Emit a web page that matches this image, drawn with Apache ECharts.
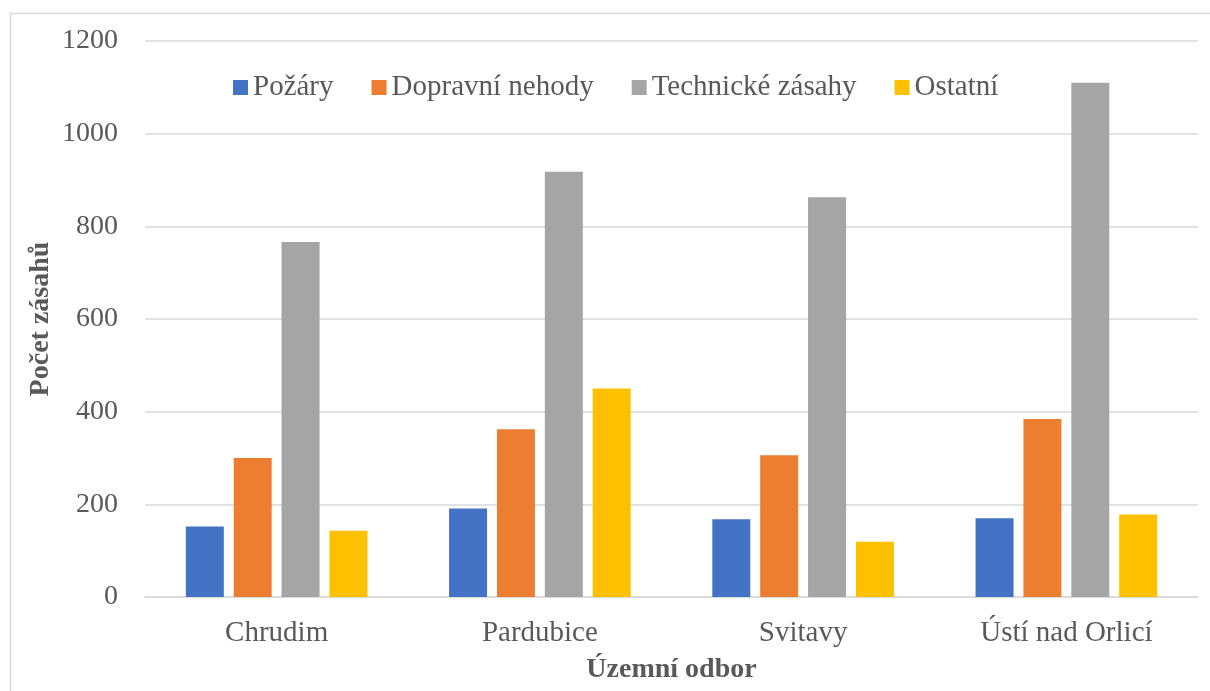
<!DOCTYPE html>
<html>
<head>
<meta charset="utf-8">
<script src="https://cdn.jsdelivr.net/npm/echarts@6/dist/echarts.min.js"></script>
<style>
  html, body { margin: 0; padding: 0; background: #fff; }
  #chart { width: 1210px; height: 691px; }
</style>
</head>
<body>
<div id="chart"></div>
<script>
// územní odbory a počty zásahů
var odbory = ['Chrudim', 'Pardubice', 'Svitavy', 'Ústí nad Orlicí'];
var pozary = [152, 191, 168, 170];
var dopravni = [300, 362, 306, 384];
var technicke = [766, 918, 863, 1110];
var ostatni = [143, 450, 119, 178];

var nazvy = ['Požáry', 'Dopravní nehody', 'Technické zásahy', 'Ostatní'];
var barvy = ['#4472C4', '#ED7D31', '#A5A5A5', '#FFC000'];
var hodnoty = [pozary, dopravni, technicke, ostatni];

var font = '"Liberation Serif", "Times New Roman", serif';
var textColor = '#595959';

var myChart = echarts.init(document.getElementById('chart'));

var seriesList = [];
nazvy.forEach(function (n, i) {
  seriesList.push({
    type: 'bar',
    name: n,
    data: hodnoty[i],
    itemStyle: { color: barvy[i] },
    barGap: '26%',
    barCategoryGap: '31%'
  });
});

var option = {
  animation: false,
  color: barvy,
  textStyle: { fontFamily: font },
  graphic: [{
    type: 'rect',
    shape: { x: 10.5, y: 13.5, width: 1300, height: 800 },
    style: { fill: 'none', stroke: '#d9d9d9', lineWidth: 1.5 },
    silent: true,
    z: -10
  }],
  legend: {
    top: 68,
    left: 228,
    itemWidth: 15,
    itemHeight: 15,
    itemGap: 38,
    icon: 'rect',
    textStyle: { fontFamily: font, fontSize: 29, color: textColor }
  },
  grid: {
    left: 145,
    right: 12,
    top: 41,
    bottom: 94,
    containLabel: false
  },
  xAxis: {
    type: 'category',
    data: odbory,
    name: 'Územní odbor',
    nameLocation: 'middle',
    nameGap: 59,
    nameTextStyle: { fontFamily: font, fontSize: 28, fontWeight: 'bold', color: textColor },
    axisLine: { lineStyle: { color: '#d9d9d9', width: 1.5 } },
    axisTick: { show: false },
    axisLabel: { fontFamily: font, fontSize: 29, color: textColor, margin: 22 }
  },
  yAxis: {
    type: 'value',
    min: 0,
    max: 1200,
    interval: 200,
    name: 'Počet zásahů',
    nameLocation: 'middle',
    nameGap: 90,
    nameMoveOverlap: false,
    nameTextStyle: { fontFamily: font, fontSize: 28, fontWeight: 'bold', color: textColor },
    axisLine: { show: false },
    axisTick: { show: false },
    axisLabel: {
      fontFamily: font, fontSize: 28, color: textColor, margin: 27,
      formatter: function (v) { return String(v); }
    },
    splitLine: { lineStyle: { color: '#d9d9d9', width: 1.5 } }
  },
  series: seriesList
};

myChart.setOption(option);
</script>
</body>
</html>
